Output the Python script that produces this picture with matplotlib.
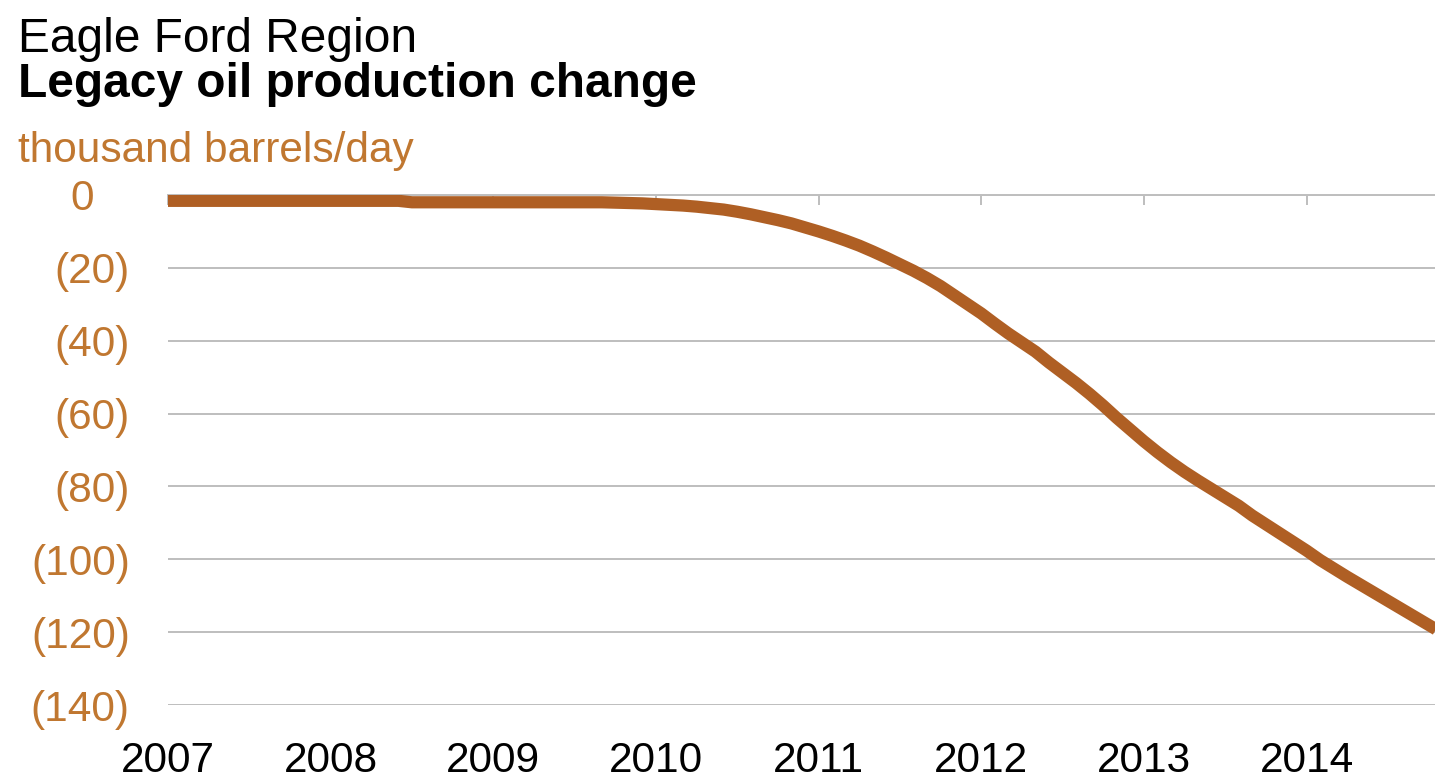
import numpy as np
import matplotlib.pyplot as plt

# monthly values, Jan 2007 .. Nov 2014 (thousand barrels/day)
start_year = 2007
change = [
    -1.6, -1.6, -1.6, -1.6, -1.6, -1.6, -1.6, -1.6, -1.6, -1.6, -1.6, -1.6,   # 2007
    -1.6, -1.6, -1.6, -1.6, -1.6, -1.6, -2.0, -2.0, -2.0, -2.0, -2.0, -2.0,   # 2008
    -2.0, -2.0, -2.0, -2.0, -2.0, -2.0, -2.0, -2.0, -2.0, -2.1, -2.2, -2.3,   # 2009
    -2.5, -2.7, -2.9, -3.2, -3.6, -4.0, -4.6, -5.3, -6.1, -6.9, -7.8, -8.9,   # 2010
    -10.0, -11.2, -12.5, -13.9, -15.5, -17.2, -19.0, -20.8, -22.8, -25.0, -27.5, -30.0,  # 2011
    -32.5, -35.3, -38.0, -40.5, -43.0, -46.0, -48.8, -51.6, -54.6, -57.8, -61.2, -64.4,  # 2012
    -67.6, -70.6, -73.4, -76.0, -78.4, -80.7, -83.0, -85.3, -88.0, -90.4, -92.8, -95.2,  # 2013
    -97.6, -100.2, -102.5, -104.8, -107.0, -109.2, -111.4, -113.6, -115.8, -118.0, -120.2,  # 2014
]
years = list(range(2007, 2015))
yticks = [0, -20, -40, -60, -80, -100, -120, -140]
# accounting style: zero is padded on the right
ylabels = ['0   '] + ['(%d)' % -v for v in yticks[1:]]

x = start_year + np.arange(len(change)) / 12.0

line_color = '#AF5F24'
label_color = '#C07730'
grid_color = '#BEBEBE'

plt.rcParams['font.family'] = ['Liberation Sans', 'DejaVu Sans']

fig = plt.figure(figsize=(14.35, 7.82), dpi=100)
ax = fig.add_axes([168 / 1435, 1 - 705 / 782, 1 - 168 / 1435, (705 - 195) / 782])

ax.plot(x, change, color=line_color, lw=8.8, solid_capstyle='butt',
        solid_joinstyle='round', zorder=3)

ax.set_xlim(2007, 2014.79)
ax.set_ylim(-140, 0)
ax.set_xticks(years)
ax.set_xticklabels([str(y) for y in years])
ax.set_yticks(yticks)
ax.set_yticklabels(ylabels)

ax.yaxis.grid(True, color=grid_color, lw=1.4)
ax.set_axisbelow(True)
for s in ['left', 'right', 'bottom']:
    ax.spines[s].set_visible(False)
ax.spines['top'].set_color(grid_color)
ax.spines['top'].set_linewidth(1.4)

ax.tick_params(axis='x', top=True, bottom=False, direction='in', length=7,
               width=1.4, color=grid_color, labelsize=30.5, pad=26,
               labelcolor='black')
ax.tick_params(axis='y', left=False, labelsize=30.5, pad=24,
               labelcolor=label_color)
ax.xaxis.set_tick_params(labelbottom=True, labeltop=False)

fig.text(18 / 1435, 1 - 52 / 782, 'Eagle Ford Region', fontsize=34.5,
         va='baseline', ha='left', color='black')
fig.text(18 / 1435, 1 - 97 / 782, 'Legacy oil production change', fontsize=34.5,
         fontweight='bold', va='baseline', ha='left', color='black')
fig.text(18 / 1435, 1 - 162 / 782, 'thousand barrels/day', fontsize=30.5,
         va='baseline', ha='left', color=label_color)

fig.savefig('out.png', dpi=100)
